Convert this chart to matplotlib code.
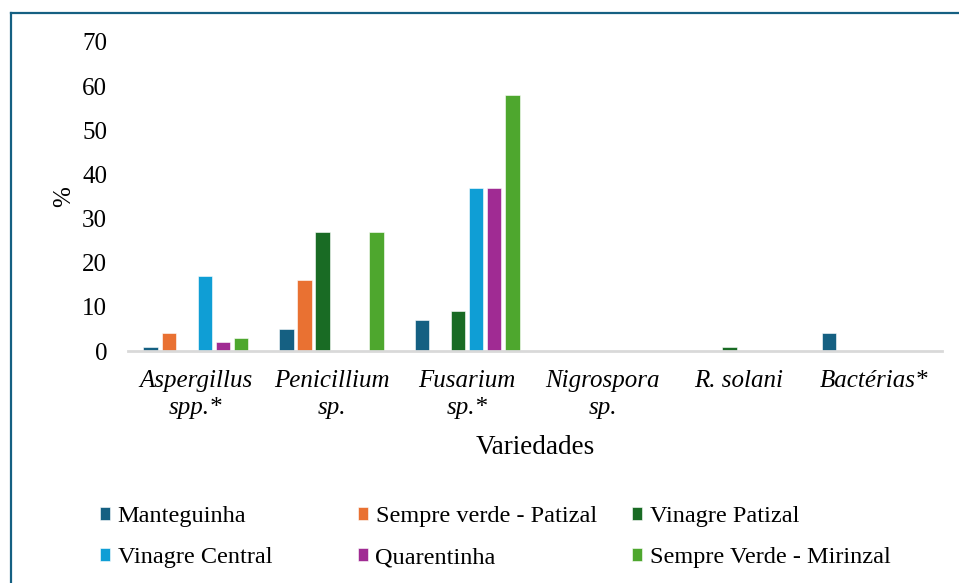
import matplotlib
matplotlib.use("Agg")
import matplotlib.pyplot as plt
from matplotlib.lines import Line2D
import numpy as np

plt.rcParams['font.family'] = ['Liberation Serif', 'DejaVu Serif']

categories = ["Aspergillus\nspp.*", "Penicillium\nsp.", "Fusarium\nsp.*",
              "Nigrospora\nsp.", "R. solani", "Bactérias*"]
series = ["Manteguinha", "Sempre verde - Patizal", "Vinagre Patizal",
          "Vinagre Central", "Quarentinha", "Sempre Verde - Mirinzal"]
manteguinha = [1, 5, 7, 0, 0, 4]
sempre_verde_patizal = [4, 16, 0, 0, 0, 0]
vinagre_patizal = [0, 27, 9, 0, 1, 0]
vinagre_central = [17, 0, 37, 0, 0, 0]
quarentinha = [2, 0, 37, 0, 0, 0]
sempre_verde_mirinzal = [3, 27, 58, 0, 0, 0]
values = [manteguinha, sempre_verde_patizal, vinagre_patizal,
          vinagre_central, quarentinha, sempre_verde_mirinzal]
colors = ["#156082", "#E97132", "#196B24", "#0F9ED5", "#A02B93", "#4EA72E"]
yticks = [0, 10, 20, 30, 40, 50, 60, 70]

fig = plt.figure(figsize=(9.59, 5.83), dpi=100)
ax = fig.add_axes([128 / 959, 1 - 351 / 583, 814 / 959, 309 / 583])

x = np.arange(len(categories))
step = 0.133
width = 0.107
bars = []
for i, (name, vals, c) in enumerate(zip(series, values, colors)):
    b = ax.bar(x + (i - 2.5) * step, vals, width, color=c, label=name,
               edgecolor="white", linewidth=0.4)
    bars.append(b)

ax.set_xlim(-0.5, len(categories) - 0.5)
ax.set_ylim(0, 70)
ax.set_yticks(yticks)
ax.set_xticks(x)
ax.set_xticklabels(categories, fontstyle="italic", fontsize=18,
                   linespacing=1.25)
ax.tick_params(axis="x", length=0, pad=14)
ax.tick_params(axis="y", length=0, pad=15, labelsize=18)
for s in ["top", "right", "left"]:
    ax.spines[s].set_visible(False)
ax.spines["bottom"].set_color("#D9D9D9")
ax.spines["bottom"].set_linewidth(2)

ax.set_ylabel("%", fontsize=18, labelpad=5)
ax.set_xlabel("Variedades", fontsize=19.5, labelpad=12)

# legend: three columns placed like the original
col_x = [100 / 959, 358 / 959, 632 / 959]
for j in range(3):
    fig.legend(handles=[bars[j], bars[j + 3]], labels=[series[j], series[j + 3]],
               loc="upper left", bbox_to_anchor=(col_x[j], 1 - 506 / 583),
               frameon=False, fontsize=17.5, handlelength=0.42,
               handleheight=0.42, handletextpad=0.3, labelspacing=0.83,
               borderpad=0, borderaxespad=0)

# partial frame (top and left edges)
frame_c = "#156082"
fig.add_artist(Line2D([11 / 959, 1], [1 - 13 / 583, 1 - 13 / 583],
                      transform=fig.transFigure, color=frame_c, lw=1.6))
fig.add_artist(Line2D([11 / 959, 11 / 959], [0, 1 - 13 / 583],
                      transform=fig.transFigure, color=frame_c, lw=1.6))

fig.savefig("out.png", dpi=100)
